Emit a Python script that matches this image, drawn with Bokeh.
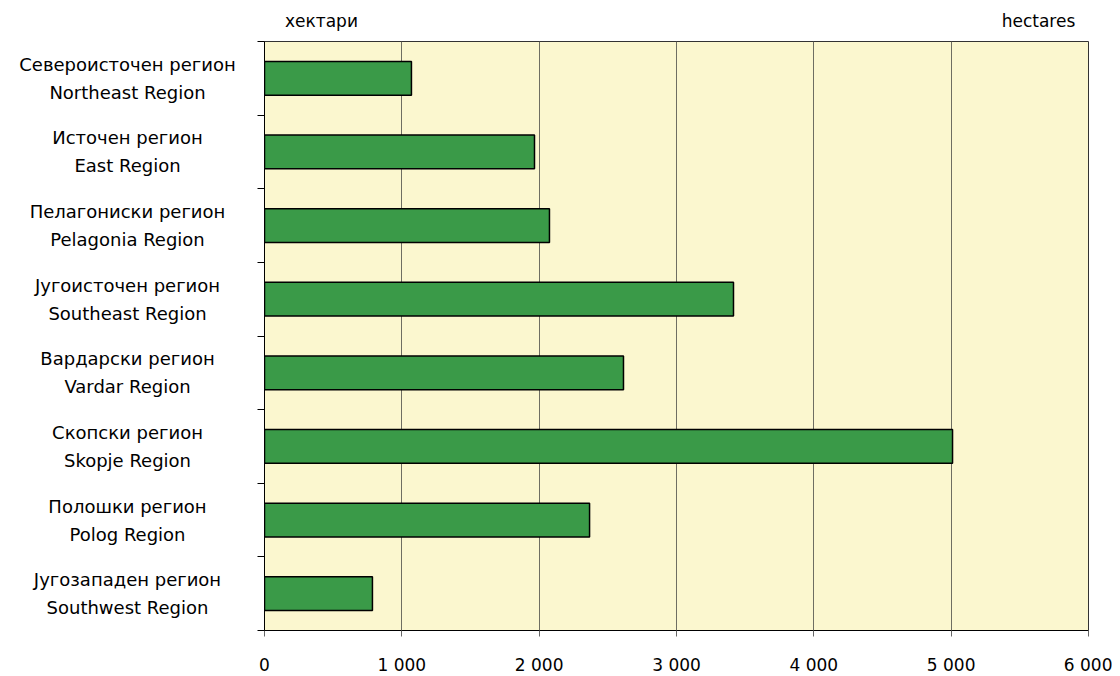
from bokeh.plotting import figure
from bokeh.layouts import row
from bokeh.models import FixedTicker, LinearAxis, ColumnDataSource, Range1d
from bokeh.core.properties import value
from bokeh.embed import file_html
from bokeh.resources import INLINE

regions_mk = ["Североисточен регион", "Источен регион", "Пелагониски регион",
              "Југоисточен регион", "Вардарски регион", "Скопски регион",
              "Полошки регион", "Југозападен регион"]
regions_en = ["Northeast Region", "East Region", "Pelagonia Region",
              "Southeast Region", "Vardar Region", "Skopje Region",
              "Polog Region", "Southwest Region"]
hectares = [1070, 1966, 2075, 3415, 2614, 5010, 2367, 786]
xticks = [0, 1000, 2000, 3000, 4000, 5000, 6000]
xtick_labels = ["0", "1 000", "2 000", "3 000", "4 000", "5 000", "6 000"]
unit_mk = "хектари"
unit_en = "hectares"

n = len(regions_en)
ypos = [n - i - 0.5 for i in range(n)]

FONT = "DejaVu Sans"
FRAME_H = 589
TOP = 41
BOTTOM = 44

yr = Range1d(0, n)

# ---- main chart ----
p = figure(frame_width=824, frame_height=FRAME_H, output_backend="svg",
           toolbar_location=None, x_range=(0, 6000), y_range=yr)
p.min_border_left = 8
p.min_border_right = 24
p.min_border_top = TOP
p.min_border_bottom = BOTTOM

p.background_fill_color = "#FBF7CF"
p.border_fill_color = "white"
p.outline_line_color = "#333333"
p.outline_line_width = 1

src = ColumnDataSource(dict(y=ypos, right=hectares))
p.hbar(y="y", left=0, right="right", height=0.46, source=src,
       fill_color="#3A9A48", line_color="black", line_width=1.5)

p.xaxis.ticker = FixedTicker(ticks=xticks)
p.xaxis.major_label_overrides = {t: l for t, l in zip(xticks, xtick_labels)}
p.xaxis.axis_line_color = "black"
p.xaxis.major_tick_in = 0
p.xaxis.major_tick_out = 6
p.xaxis.major_tick_line_color = "#666666"
p.xaxis.minor_tick_line_color = None
p.xaxis.major_label_standoff = 18
p.xaxis.major_label_text_font = FONT
p.xaxis.major_label_text_font_size = "17px"
p.xaxis.major_label_text_color = "black"

p.yaxis.ticker = FixedTicker(ticks=[], minor_ticks=list(range(n + 1)))
p.yaxis.major_label_standoff = 0
p.yaxis.axis_line_color = "black"
p.yaxis.major_tick_in = 0
p.yaxis.major_tick_out = 0
p.yaxis.minor_tick_in = 0
p.yaxis.minor_tick_out = 7
p.yaxis.minor_tick_line_color = "black"

p.xgrid.grid_line_color = "#6E6E62"
p.xgrid.grid_line_width = 1
p.ygrid.grid_line_color = None

# units shown above the frame through a top axis
unit_pos = [415, 5636]
top = LinearAxis(ticker=FixedTicker(ticks=unit_pos, minor_ticks=[]),
                 major_label_overrides={unit_pos[0]: unit_mk, unit_pos[1]: unit_en})
top.axis_line_color = None
top.major_tick_line_color = None
top.major_tick_in = 0
top.major_tick_out = 0
top.major_label_standoff = 11
top.major_label_text_font = FONT
top.major_label_text_font_size = "17px"
top.major_label_text_color = "black"
p.add_layout(top, "above")

# ---- category labels ----
lab = figure(frame_width=256, frame_height=FRAME_H, output_backend="svg",
             toolbar_location=None, x_range=(0, 256), y_range=yr,
             x_axis_type=None, y_axis_type=None)
lab.min_border_left = 0
lab.min_border_right = 0
lab.min_border_top = TOP
lab.min_border_bottom = BOTTOM
lab.outline_line_color = None
lab.background_fill_color = "white"
lab.grid.grid_line_color = None

lsrc = ColumnDataSource(dict(x=[127] * n, y=ypos, mk=regions_mk, en=regions_en))
lab.text(x="x", y="y", text="mk", source=lsrc, y_offset=-14,
         text_font=value(FONT), text_font_size="18px", text_align="center",
         text_baseline="middle", text_color="black")
lab.text(x="x", y="y", text="en", source=lsrc, y_offset=14,
         text_font=value(FONT), text_font_size="18px", text_align="center",
         text_baseline="middle", text_color="black")

layout = row(lab, p, spacing=0)
open("out.html", "w").write(file_html(layout, INLINE))
